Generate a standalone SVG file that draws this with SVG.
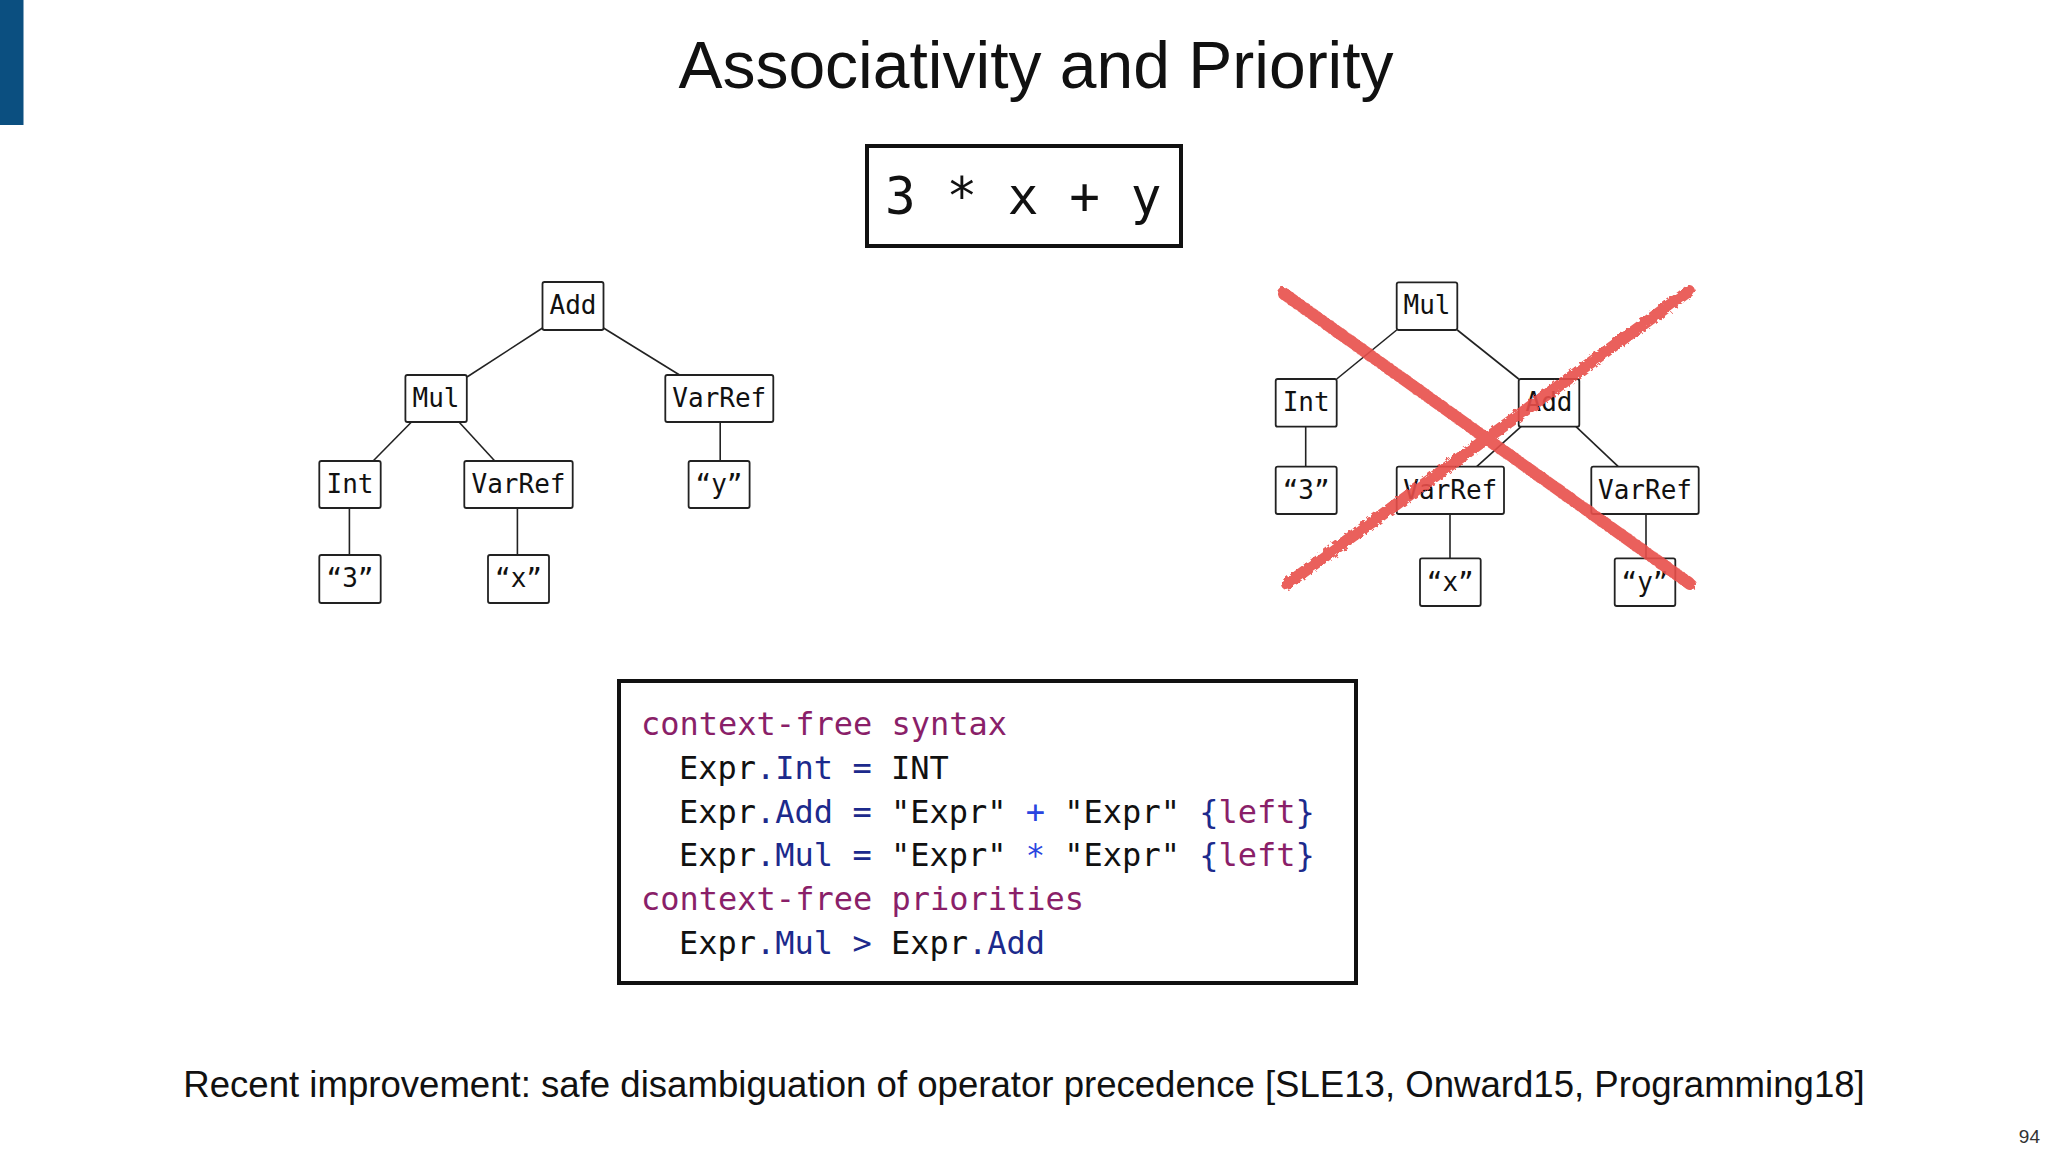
<svg xmlns="http://www.w3.org/2000/svg" width="2048" height="1152" viewBox="0 0 2048 1152">
<defs>
<style>
.n rect{fill:#fff;stroke:#222;stroke-width:1.8}
.n text{font-family:"DejaVu Sans Mono",monospace;font-size:26px;fill:#111;text-anchor:middle}
.e line{stroke:#222;stroke-width:1.6}
.code{font-family:"DejaVu Sans Mono",monospace;font-size:32px;fill:#111}
.kw{fill:#8a1f69}.cn{fill:#1c2a8c}.op{fill:#2a45e0}
</style>
<filter id="rough" x="-10%" y="-10%" width="120%" height="120%">
<feTurbulence type="fractalNoise" baseFrequency="0.25" numOctaves="2" seed="3"/>
<feDisplacementMap in="SourceGraphic" scale="5"/>
</filter>
</defs>
<rect width="2048" height="1152" fill="#fff"/>
<rect x="0" y="0" width="23.5" height="125" fill="#0b4f80"/>
<text x="1036" y="88" font-family="Liberation Sans, Arial, sans-serif" font-size="66" text-anchor="middle" fill="#111">Associativity and Priority</text>
<g id="expr">
<rect x="867" y="146" width="314" height="100" fill="#fff" stroke="#111" stroke-width="4"/>
<text x="885" y="214" font-family="DejaVu Sans Mono, monospace" font-size="51" fill="#111" xml:space="preserve">3 * x + y</text>
</g>
<g id="connectors" class="e">
<line x1="542.5" y1="328" x2="467" y2="377"/>
<line x1="603.5" y1="328" x2="679.6" y2="375"/>
<line x1="411.5" y1="422" x2="373.1" y2="461"/>
<line x1="459" y1="422" x2="494.8" y2="461"/>
<line x1="720.2" y1="422" x2="720.2" y2="461"/>
<line x1="349.4" y1="508" x2="349.4" y2="555"/>
<line x1="517.4" y1="508" x2="517.4" y2="555"/>
<line x1="1396.7" y1="330" x2="1336.7" y2="379"/>
<line x1="1457.3" y1="330" x2="1518.7" y2="379"/>
<line x1="1521" y1="426.7" x2="1476.7" y2="466.7"/>
<line x1="1576" y1="426.7" x2="1618.3" y2="466.7"/>
<line x1="1305.7" y1="426.7" x2="1305.7" y2="466.7"/>
<line x1="1450" y1="514" x2="1450" y2="558.3"/>
<line x1="1646" y1="514" x2="1646" y2="558.3"/>
</g>
<g id="l-add" class="n"><rect x="542.5" y="282" width="61" height="48" rx="2"/><text x="573" y="314">Add</text></g>
<g id="l-mul" class="n"><rect x="405.4" y="375" width="61.4" height="47" rx="2"/><text x="436" y="407">Mul</text></g>
<g id="l-varref-y" class="n"><rect x="665.3" y="375" width="108" height="47" rx="2"/><text x="719.3" y="407">VarRef</text></g>
<g id="l-int" class="n"><rect x="319.3" y="461" width="61.4" height="47" rx="2"/><text x="350" y="493">Int</text></g>
<g id="l-varref-x" class="n"><rect x="464.3" y="461" width="108.4" height="47" rx="2"/><text x="518.5" y="493">VarRef</text></g>
<g id="l-y" class="n"><rect x="688.6" y="461" width="61" height="47" rx="2"/><text x="719" y="493">“y”</text></g>
<g id="l-3" class="n"><rect x="319.3" y="555" width="61.4" height="48" rx="2"/><text x="350" y="587">“3”</text></g>
<g id="l-x" class="n"><rect x="488" y="555" width="61" height="48" rx="2"/><text x="518.5" y="587">“x”</text></g>
<g id="r-mul" class="n"><rect x="1396.7" y="282.3" width="60.6" height="47.7" rx="2"/><text x="1427" y="314">Mul</text></g>
<g id="r-int" class="n"><rect x="1275.7" y="379" width="61" height="47.7" rx="2"/><text x="1306.2" y="411">Int</text></g>
<g id="r-add" class="n"><rect x="1518.7" y="379" width="60.6" height="47.7" rx="2"/><text x="1549" y="411">Add</text></g>
<g id="r-3" class="n"><rect x="1275.7" y="466.7" width="61" height="47.3" rx="2"/><text x="1306.2" y="499">“3”</text></g>
<g id="r-varref-x" class="n"><rect x="1396.7" y="466.7" width="107.3" height="47.3" rx="2"/><text x="1450.3" y="499">VarRef</text></g>
<g id="r-varref-y" class="n"><rect x="1591.3" y="466.7" width="107.4" height="47.3" rx="2"/><text x="1645" y="499">VarRef</text></g>
<g id="r-x" class="n"><rect x="1420" y="558.3" width="60.7" height="47.7" rx="2"/><text x="1450.3" y="591">“x”</text></g>
<g id="r-y" class="n"><rect x="1614.7" y="558.3" width="60.6" height="47.7" rx="2"/><text x="1645" y="591">“y”</text></g>
<g id="cross" stroke="#e8504b" stroke-width="12" stroke-linecap="round" opacity="0.9" filter="url(#rough)">
<line x1="1283" y1="293" x2="1690" y2="584"/>
<line x1="1689" y1="291" x2="1287" y2="584"/>
</g>
<g id="code">
<rect x="619" y="681" width="737" height="302" fill="#fff" stroke="#111" stroke-width="4"/>
<text class="code" x="641" y="735" xml:space="preserve"><tspan class="kw">context-free syntax</tspan></text>
<text class="code" x="679" y="779" xml:space="preserve">Expr<tspan class="cn">.Int</tspan> <tspan class="cn">=</tspan> INT</text>
<text class="code" x="679" y="823" xml:space="preserve">Expr<tspan class="cn">.Add</tspan> <tspan class="cn">=</tspan> "Expr" <tspan class="op">+</tspan> "Expr" <tspan class="cn">{</tspan><tspan class="kw">left</tspan><tspan class="cn">}</tspan></text>
<text class="code" x="679" y="866" xml:space="preserve">Expr<tspan class="cn">.Mul</tspan> <tspan class="cn">=</tspan> "Expr" <tspan class="op">*</tspan> "Expr" <tspan class="cn">{</tspan><tspan class="kw">left</tspan><tspan class="cn">}</tspan></text>
<text class="code" x="641" y="910" xml:space="preserve"><tspan class="kw">context-free priorities</tspan></text>
<text class="code" x="679" y="954" xml:space="preserve">Expr<tspan class="cn">.Mul</tspan> <tspan class="cn">&gt;</tspan> Expr<tspan class="cn">.Add</tspan></text>
</g>
<text x="1024" y="1097" font-family="Liberation Sans, Arial, sans-serif" font-size="36.6" text-anchor="middle" fill="#111">Recent improvement: safe disambiguation of operator precedence [SLE13, Onward15, Programming18]</text>
<text x="2040" y="1143" font-family="Liberation Sans, Arial, sans-serif" font-size="19" text-anchor="end" fill="#333">94</text>
</svg>
